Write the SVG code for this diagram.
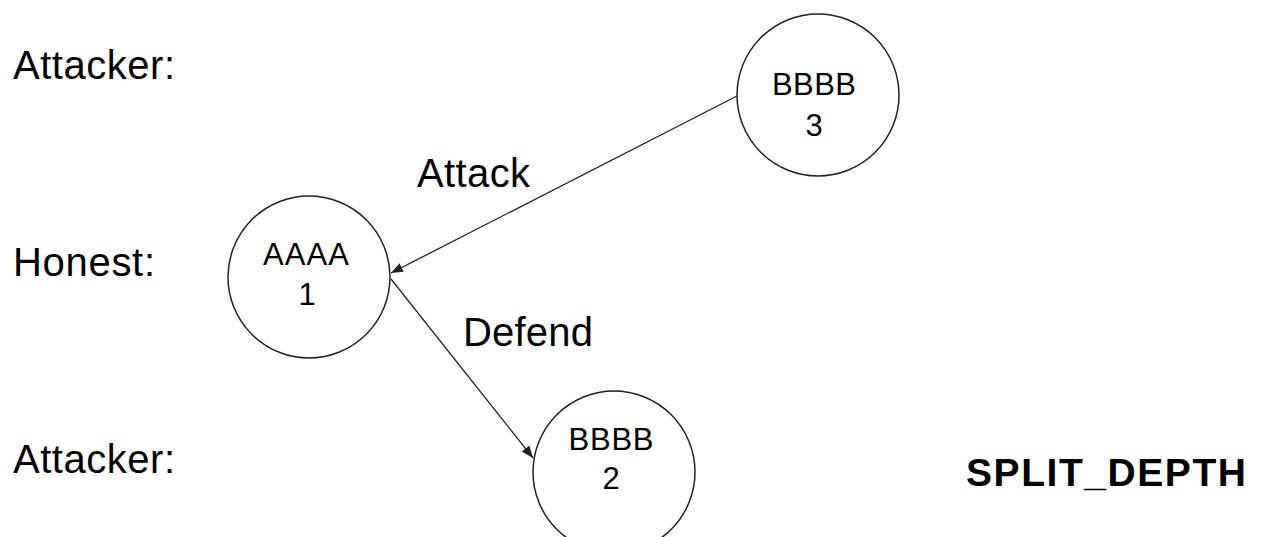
<svg xmlns="http://www.w3.org/2000/svg" width="1262" height="537" viewBox="0 0 1262 537">
<style>
.lbl{font-family:"Liberation Sans",Arial,sans-serif;font-size:40px;fill:#000}
.ntxt{font-family:"Liberation Sans",Arial,sans-serif;font-size:31px;fill:#000;text-anchor:middle}
.node{fill:#fff;stroke:#222;stroke-width:1.5}
.edge{stroke:#222;stroke-width:1.3;fill:none;marker-end:url(#ah)}
</style>
<defs>
<marker id="ah" viewBox="0 0 10 10" refX="10" refY="5" markerWidth="12" markerHeight="12" markerUnits="userSpaceOnUse" orient="auto">
<path d="M0,1 L10,5 L0,9 Z" fill="#222"/>
</marker>
</defs>
<rect width="1262" height="537" fill="#fff"/>
<text class="lbl" x="13" y="79" textLength="162">Attacker:</text>
<text class="lbl" x="13" y="276" textLength="142">Honest:</text>
<text class="lbl" x="13" y="473" textLength="162">Attacker:</text>
<text class="lbl" x="417" y="187" textLength="113">Attack</text>
<text class="lbl" x="463" y="346" textLength="130">Defend</text>
<text x="966" y="486" style="font-family:'Liberation Sans',Arial,sans-serif;font-size:39px;font-weight:bold" textLength="280">SPLIT_DEPTH</text>
<g id="edges">
<line class="edge" x1="737" y1="96" x2="391" y2="273"/>
<line class="edge" x1="391" y1="279" x2="533" y2="458"/>
</g>
<g id="node1">
<circle class="node" cx="309" cy="277" r="81"/>
<text class="ntxt" x="306" y="265" textLength="86">AAAA</text>
<text class="ntxt" x="307" y="305">1</text>
</g>
<g id="node3">
<circle class="node" cx="818" cy="95" r="81"/>
<text class="ntxt" x="814" y="95" textLength="84">BBBB</text>
<text class="ntxt" x="814" y="136">3</text>
</g>
<g id="node2">
<circle class="node" cx="614" cy="472" r="81"/>
<text class="ntxt" x="611" y="450" textLength="85">BBBB</text>
<text class="ntxt" x="611" y="489">2</text>
</g>
</svg>
